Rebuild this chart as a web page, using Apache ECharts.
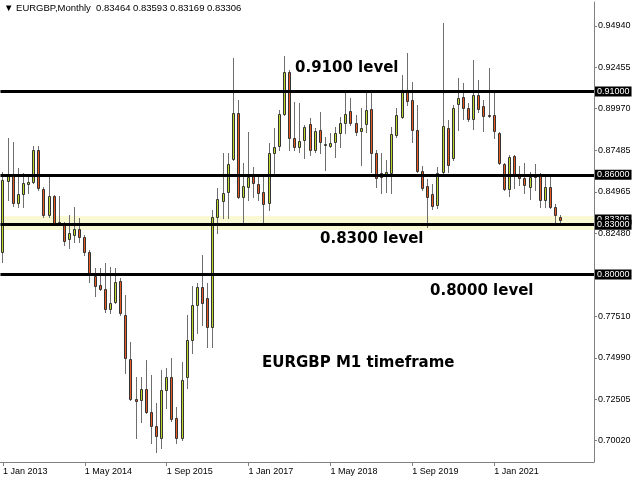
<!DOCTYPE html>
<html>
<head>
<meta charset="utf-8">
<script src="https://cdn.jsdelivr.net/npm/echarts@6/dist/echarts.min.js"></script>
<style>html,body{margin:0;padding:0;background:#fff}#c{width:640px;height:480px}</style>
</head>
<body>
<div id="c"></div>
<script>
// ---- data ----
const months = [
 '2013-01','2013-02','2013-03','2013-04','2013-05','2013-06','2013-07','2013-08','2013-09','2013-10','2013-11','2013-12',
 '2014-01','2014-02','2014-03','2014-04','2014-05','2014-06','2014-07','2014-08','2014-09','2014-10','2014-11','2014-12',
 '2015-01','2015-02','2015-03','2015-04','2015-05','2015-06','2015-07','2015-08','2015-09','2015-10','2015-11','2015-12',
 '2016-01','2016-02','2016-03','2016-04','2016-05','2016-06','2016-07','2016-08','2016-09','2016-10','2016-11','2016-12',
 '2017-01','2017-02','2017-03','2017-04','2017-05','2017-06','2017-07','2017-08','2017-09','2017-10','2017-11','2017-12',
 '2018-01','2018-02','2018-03','2018-04','2018-05','2018-06','2018-07','2018-08','2018-09','2018-10','2018-11','2018-12',
 '2019-01','2019-02','2019-03','2019-04','2019-05','2019-06','2019-07','2019-08','2019-09','2019-10','2019-11','2019-12',
 '2020-01','2020-02','2020-03','2020-04','2020-05','2020-06','2020-07','2020-08','2020-09','2020-10','2020-11','2020-12',
 '2021-01','2021-02','2021-03','2021-04','2021-05','2021-06','2021-07','2021-08','2021-09','2021-10','2021-11','2021-12',
 '2022-01','2022-02'
];
// empty future slots on the right of the chart (chart shift)
const futureMonths = ['2022-03','2022-04','2022-05','2022-06','2022-07','2022-08'];

const openP = [
 0.8136,0.8562,0.8605,0.8430,0.8484,0.8544,0.8556,0.8749,0.8514,0.8358,0.8472,0.8312,
 0.8298,0.8214,0.8238,0.8274,0.8226,0.8136,0.7991,0.7937,0.7913,0.7793,0.7835,0.7961,
 0.7757,0.7493,0.7252,0.7246,0.7312,0.7174,0.7090,0.7018,0.7306,0.7385,0.7138,0.7018,
 0.7385,0.7607,0.7817,0.7925,0.7859,0.7685,0.8346,0.8442,0.8496,0.8695,0.8971,0.8466,
 0.8526,0.8593,0.8544,0.8496,0.8430,0.8731,0.8773,0.8965,0.9218,0.8821,0.8767,0.8809,
 0.8905,0.8749,0.8869,0.8780,0.8773,0.8797,0.8851,0.8911,0.8983,0.8911,0.8863,0.8905,
 0.8995,0.8731,0.8587,0.8607,0.8611,0.8839,0.8947,0.9097,0.9049,0.8869,0.8623,0.8532,
 0.8484,0.8418,0.8617,0.8881,0.8701,0.9025,0.9067,0.9001,0.8935,0.9079,0.9013,0.8959,
 0.8959,0.8851,0.8665,0.8514,0.8713,0.8599,0.8581,0.8526,0.8593,0.8599,0.8448,0.8526,
 0.8406,0.83464
];
const highP = [
 0.8617,0.8821,0.8797,0.8641,0.8611,0.8599,0.8773,0.8773,0.8526,0.8593,0.8478,0.8472,
 0.8316,0.8358,0.8406,0.8340,0.8238,0.8148,0.8040,0.8040,0.8070,0.8046,0.8040,0.7979,
 0.7877,0.7595,0.7385,0.7385,0.7487,0.7397,0.7228,0.7427,0.7439,0.7499,0.7204,0.7475,
 0.7757,0.7931,0.7949,0.8118,0.7949,0.8388,0.8520,0.8731,0.8731,0.9302,0.9049,0.8671,
 0.8857,0.8647,0.8587,0.8587,0.8791,0.8881,0.8989,0.9314,0.9230,0.9037,0.9031,0.8899,
 0.8941,0.8881,0.8977,0.8827,0.8851,0.8887,0.8947,0.9097,0.9061,0.8959,0.9001,0.9097,
 0.9097,0.8749,0.8731,0.8689,0.8887,0.9001,0.9200,0.9332,0.9157,0.9019,0.8653,0.8574,
 0.8544,0.8647,0.9512,0.8929,0.9019,0.9181,0.9151,0.9031,0.9290,0.9169,0.9049,0.9242,
 0.9091,0.8857,0.8671,0.8719,0.8719,0.8653,0.8671,0.8617,0.8665,0.8611,0.8599,0.8599,
 0.8424,0.83593
];
const lowP = [
 0.8076,0.8448,0.8412,0.8406,0.8406,0.8490,0.8550,0.8508,0.8346,0.8346,0.8298,0.8304,
 0.8178,0.8160,0.8196,0.8196,0.8118,0.7955,0.7871,0.7907,0.7775,0.7769,0.7829,0.7757,
 0.7409,0.7246,0.7018,0.7114,0.7168,0.6988,0.6934,0.6958,0.7198,0.7120,0.6988,0.7006,
 0.7318,0.7529,0.7649,0.7697,0.7565,0.7565,0.8250,0.8340,0.8340,0.8689,0.8460,0.8310,
 0.8448,0.8466,0.8448,0.8316,0.8388,0.8611,0.8749,0.8959,0.8749,0.8749,0.8737,0.8701,
 0.8719,0.8737,0.8731,0.8629,0.8767,0.8707,0.8767,0.8851,0.8899,0.8839,0.8659,0.8857,
 0.8617,0.8526,0.8490,0.8496,0.8490,0.8827,0.8941,0.9019,0.8797,0.8617,0.8508,0.8286,
 0.8394,0.8400,0.8611,0.8617,0.8689,0.8869,0.8935,0.8923,0.8875,0.8977,0.8863,0.8947,
 0.8821,0.8665,0.8508,0.8472,0.8520,0.8538,0.8490,0.8454,0.8508,0.8406,0.8406,0.8400,
 0.8310,0.83169
];
const closeP = [
 0.8568,0.8605,0.8430,0.8484,0.8550,0.8556,0.8749,0.8520,0.8358,0.8472,0.8310,0.8318,
 0.8202,0.8250,0.8274,0.8226,0.8136,0.8010,0.7931,0.7913,0.7793,0.7829,0.7955,0.7769,
 0.7499,0.7252,0.7240,0.7312,0.7174,0.7090,0.7030,0.7306,0.7385,0.7132,0.7018,0.7366,
 0.7607,0.7817,0.7925,0.7829,0.7685,0.8346,0.8454,0.8490,0.8665,0.8971,0.8466,0.8532,
 0.8587,0.8550,0.8490,0.8424,0.8731,0.8767,0.8965,0.9218,0.8821,0.8767,0.8803,0.8887,
 0.8749,0.8863,0.8797,0.8782,0.8791,0.8851,0.8911,0.8965,0.8911,0.8857,0.8881,0.8989,
 0.8731,0.8581,0.8611,0.8619,0.8845,0.8959,0.9097,0.9043,0.8869,0.8623,0.8520,0.8466,
 0.8412,0.8611,0.8893,0.8659,0.9001,0.9061,0.9001,0.8935,0.9079,0.8995,0.8953,0.8953,
 0.8863,0.8671,0.8514,0.8707,0.8599,0.8581,0.8538,0.8587,0.8591,0.8448,0.8526,0.8406,
 0.8358,0.83306
];

const levelLines = [0.91, 0.86, 0.83, 0.80];
const currentPrice = 0.83306;
const zoneLow = 0.8268, zoneHigh = 0.8352;

const yTickValues = [0.94940, 0.92455, 0.89970, 0.87485, 0.84965, 0.82480, 0.77510, 0.74990, 0.72505, 0.70020];
const xTickMonths = ['2013-01','2014-05','2015-09','2017-01','2018-05','2019-09','2021-01'];
const xTickLabels = ['1 Jan 2013','1 May 2014','1 Sep 2015','1 Jan 2017','1 May 2018','1 Sep 2019','1 Jan 2021'];

const titleText = '\u25BC EURGBP,Monthly  0.83464 0.83593 0.83169 0.83306';
const annotations = [
  {text: '0.9100 level', left: 295, top: 61},
  {text: '0.8300 level', left: 320, top: 232},
  {text: '0.8000 level', left: 430, top: 284},
  {text: 'EURGBP M1 timeframe', left: 262, top: 356}
];

// ---- style ----
const bullFill = '#bcd62c';
const bearFill = '#e65a22';
const bodyBorder = '#333333';
const wickColor = '#6e6e6e';
const axisColor = '#808080';

const categories = months.concat(futureMonths);
const candleData = months.map((m, i) => [i, openP[i], closeP[i], lowP[i], highP[i]]);

function renderCandle(params, api) {
  const i = api.value(0);
  const o = api.value(1), c = api.value(2), l = api.value(3), h = api.value(4);
  const pO = api.coord([i, o]);
  const pC = api.coord([i, c]);
  const pL = api.coord([i, l]);
  const pH = api.coord([i, h]);
  const k = Math.floor(pO[0]);
  const xl = k + 0.5;
  const top = Math.round(Math.min(pO[1], pC[1]));
  const bot = Math.round(Math.max(pO[1], pC[1]));
  const bull = c >= o;
  return {
    type: 'group',
    children: [
      {type: 'line', shape: {x1: xl, y1: Math.round(pH[1]), x2: xl, y2: Math.round(pL[1]) + 1},
       style: {stroke: wickColor, lineWidth: 1}},
      {type: 'rect', shape: {x: k - 0.5, y: top + 0.5, width: 2, height: Math.max(bot - top, 1)},
       style: {fill: bull ? bullFill : bearFill, stroke: bodyBorder, lineWidth: 1}}
    ]
  };
}

const chart = echarts.init(document.getElementById('c'), null, {renderer: 'canvas'});
const labelFont = 'Liberation Sans, Arial, sans-serif';
const yMin = 0.6874, yMax = 0.96382;

chart.setOption({
  animation: false,
  backgroundColor: '#ffffff',
  grid: {left: 0, right: 46, top: 2, bottom: 18, show: false},
  xAxis: {
    type: 'category',
    data: categories,
    boundaryGap: true,
    axisLine: {show: true, lineStyle: {color: axisColor, width: 1}},
    axisTick: {show: true, alignWithLabel: true, length: 4, lineStyle: {color: axisColor},
      interval: (idx, val) => xTickMonths.indexOf(val) >= 0},
    axisLabel: {show: true, align: 'left', margin: 5, fontSize: 9, color: '#000', fontFamily: labelFont,
      interval: (idx, val) => xTickMonths.indexOf(val) >= 0,
      formatter: (val) => { const j = xTickMonths.indexOf(val); return j >= 0 ? xTickLabels[j] : ''; }},
    splitLine: {show: false}
  },
  yAxis: [{
    type: 'value',
    position: 'right',
    min: yMin,
    max: yMax,
    axisLine: {show: true, lineStyle: {color: axisColor, width: 1}},
    axisTick: {show: true, length: 3, inside: false, customValues: yTickValues, lineStyle: {color: axisColor}},
    axisLabel: {show: true, customValues: yTickValues, margin: 4, fontSize: 9, color: '#000', fontFamily: labelFont,
      formatter: (v) => v.toFixed(5)},
    splitLine: {show: false}
  }, {
    type: 'value',
    position: 'right',
    min: yMin,
    max: yMax,
    axisLine: {show: false},
    axisTick: {show: false, customValues: [currentPrice]},
    axisLabel: {show: true, customValues: [currentPrice], margin: 1, fontSize: 9, color: '#fff',
      backgroundColor: '#000', padding: [1, 2, 0, 2], fontFamily: labelFont, formatter: (v) => v.toFixed(5)},
    splitLine: {show: false}
  }],
  series: [
    {
      type: 'line', data: [], z: 1, silent: true,
      markArea: {silent: true, itemStyle: {color: '#f9f9d4'},
        data: [[{yAxis: zoneHigh}, {yAxis: zoneLow}]]}
    },
    {
      type: 'custom', z: 2, renderItem: renderCandle, data: candleData,
      encode: {x: 0, y: [1, 2, 3, 4]}, clip: true
    },
    {
      type: 'line', data: [], z: 4, silent: true,
      markLine: {
        silent: true, symbol: 'none', animation: false,
        label: {show: true, position: 'end', distance: 1, color: '#fff', backgroundColor: '#000',
          fontSize: 9, fontFamily: labelFont, padding: [1, 2, 0, 2], formatter: (p) => p.value.toFixed(5)},
        lineStyle: {color: '#000', width: 3, type: 'solid'},
        data: levelLines.map(v => ({yAxis: v}))
      }
    }
  ],
  graphic: [
    {type: 'text', left: 4, top: 3, style: {text: titleText, fill: '#000', font: '9.5px ' + labelFont}}
  ].concat(annotations.map(a => ({
    type: 'text', left: a.left, top: a.top,
    style: {text: a.text, fill: '#000', font: 'bold 15px "DejaVu Sans", Verdana, sans-serif'}
  })))
});
</script>
</body>
</html>
